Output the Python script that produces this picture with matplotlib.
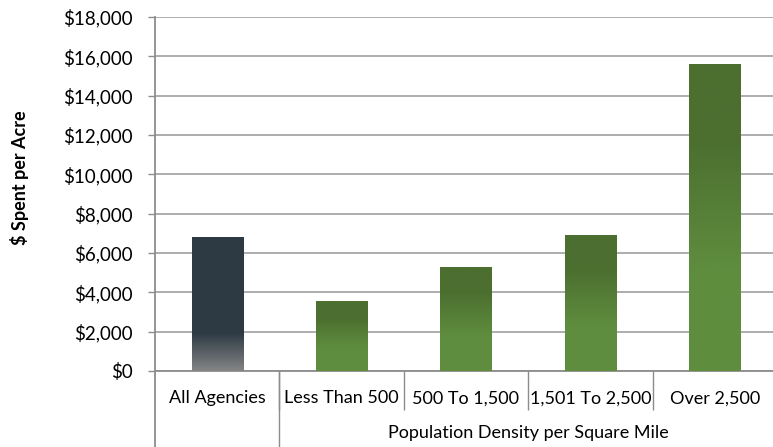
import matplotlib.pyplot as plt
import numpy as np
from matplotlib.colors import LinearSegmentedColormap
from matplotlib.ticker import FuncFormatter

plt.rcParams["font.family"] = ["Lato", "DejaVu Sans"]

categories = ["All Agencies", "Less Than 500", "500 To 1,500", "1,501 To 2,500", "Over 2,500"]
spent_per_acre = [6800, 3550, 5300, 6900, 15600]
group_label = "Population Density per Square Mile"
y_label = "$ Spent per Acre"
y_ticks = list(range(0, 18001, 2000))

# vertical fills, listed bottom -> top
slate_fill = LinearSegmentedColormap.from_list(
    "slate", [(0.0, "#858585"), (0.28, "#2e3b45"), (1.0, "#2d3a44")])
green_fill = LinearSegmentedColormap.from_list(
    "green", [(0.0, "#5f8d3e"), (0.33, "#5f8d3e"), (0.75, "#4c6f30"), (1.0, "#4c6f30")])

W, H = 773, 447
fig = plt.figure(figsize=(W / 100, H / 100), dpi=100)
ax = fig.add_axes([155 / W, (H - 371) / H, 622 / W, 354 / H])

x = np.arange(len(categories))
bar_w = 0.41
bars = ax.bar(x, spent_per_acre, width=bar_w, color="none", edgecolor="none", zorder=3)
grad = np.linspace(0, 1, 256).reshape(-1, 1)
for i, (rect, val) in enumerate(zip(bars, spent_per_acre)):
    cmap = slate_fill if i == 0 else green_fill
    im = ax.imshow(grad, cmap=cmap, origin="lower", aspect="auto", zorder=3,
                   extent=(rect.get_x(), rect.get_x() + rect.get_width(), 0, val))
    im.set_clip_path(rect)

ax.set_xlim(-0.5, len(categories) - 0.5)
ax.set_ylim(0, 18000)
ax.set_yticks(y_ticks)
ax.yaxis.set_major_formatter(FuncFormatter(lambda v, _: f"${v:,.0f}"))
ax.grid(axis="y", color="#a0a0a0", linewidth=1.2, zorder=0)
ax.set_axisbelow(True)

for side in ("top", "right"):
    ax.spines[side].set_visible(False)
for side in ("left", "bottom"):
    ax.spines[side].set_color("#8c8c8c")
    ax.spines[side].set_linewidth(1.3)

ax.tick_params(axis="y", direction="out", length=5, width=1, color="#8c8c8c",
               labelsize=13.5, pad=11, labelcolor="#000000")
ax.set_xticks(x)
ax.set_xticklabels(categories)
ax.tick_params(axis="x", which="major", length=0, pad=14, labelsize=13)

# category dividers below the axis
ax.set_xticks(np.arange(0.5, len(categories) - 1, 1.0), minor=True)
ax.tick_params(axis="x", which="minor", direction="out", length=28, width=1, color="#8c8c8c")

trans = ax.get_xaxis_transform()
for xb in (-0.5, 0.5):
    ax.plot([xb, xb], [0, -76 / 354], transform=trans, color="#8c8c8c",
            linewidth=1.3 if xb < 0 else 1, clip_on=False)

ax.text(2.5, -62 / 354, group_label, transform=trans, ha="center", va="center", fontsize=13)
fig.text(20 / W, (H - 178) / H, y_label, rotation=90, ha="center", va="center",
         fontsize=13, fontweight="bold")

fig.savefig("out.png", dpi=100)
